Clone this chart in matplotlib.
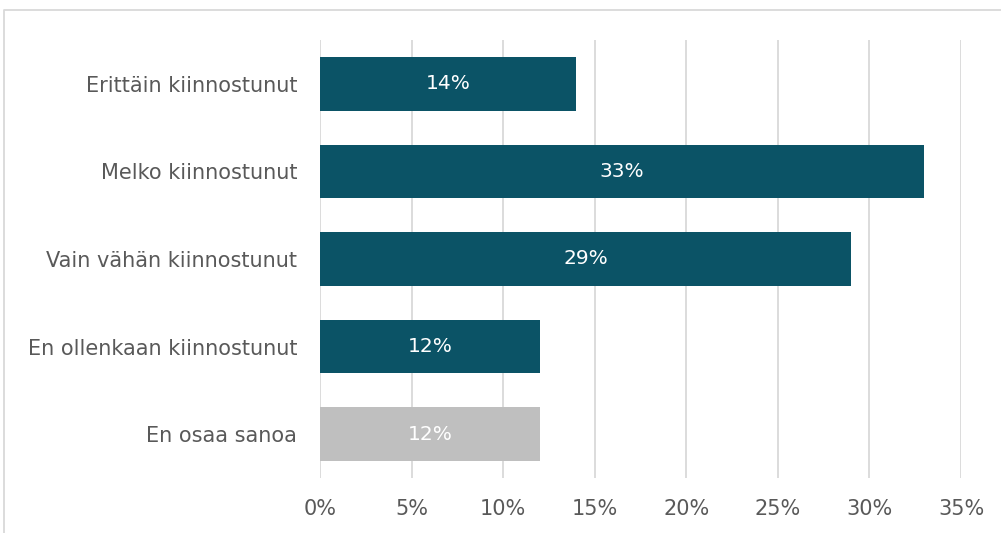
import matplotlib
matplotlib.use('Agg')
from matplotlib import pyplot as plt
import numpy as np

categories = ['Erittäin kiinnostunut', 'Melko kiinnostunut', 'Vain vähän kiinnostunut',
              'En ollenkaan kiinnostunut', 'En osaa sanoa']
values = [14, 33, 29, 12, 12]
colors = ['#0b5366', '#0b5366', '#0b5366', '#0b5366', '#bfbfbf']
ticks = [0, 5, 10, 15, 20, 25, 30, 35]

plt.rcParams['font.family'] = ['DejaVu Sans']

fig = plt.figure(figsize=(10.01, 5.33), dpi=100)
ax = fig.add_axes([320 / 1001, 1 - 478 / 533, 641 / 1001, 438 / 533])

y = np.arange(len(categories))
ax.barh(y, values, height=0.61, color=colors, zorder=3)
for yi, v in zip(y, values):
    ax.text(v / 2, yi, '%d%%' % v, ha='center', va='center',
            color='white', fontsize=14.5, zorder=4)

ax.set_ylim(len(categories) - 0.5, -0.5)
ax.set_xlim(0, 35)
ax.set_xticks(ticks)
ax.set_xticklabels(['%d%%' % t for t in ticks])
ax.set_yticks(y)
ax.set_yticklabels(categories)
ax.tick_params(axis='both', length=0, labelsize=15, colors='#595959')
ax.tick_params(axis='x', pad=15)
ax.tick_params(axis='y', pad=16.5)
ax.grid(axis='x', color='#d9d9d9', linewidth=1.3, zorder=0)
for s in ax.spines.values():
    s.set_visible(False)

# outer chart border
fig.add_artist(plt.Line2D([4 / 1001, 4 / 1001, 1.0], [0, 1 - 10 / 533, 1 - 10 / 533],
                          color='#d9d9d9', linewidth=1.3, transform=fig.transFigure))

fig.savefig('out.png', dpi=100)
